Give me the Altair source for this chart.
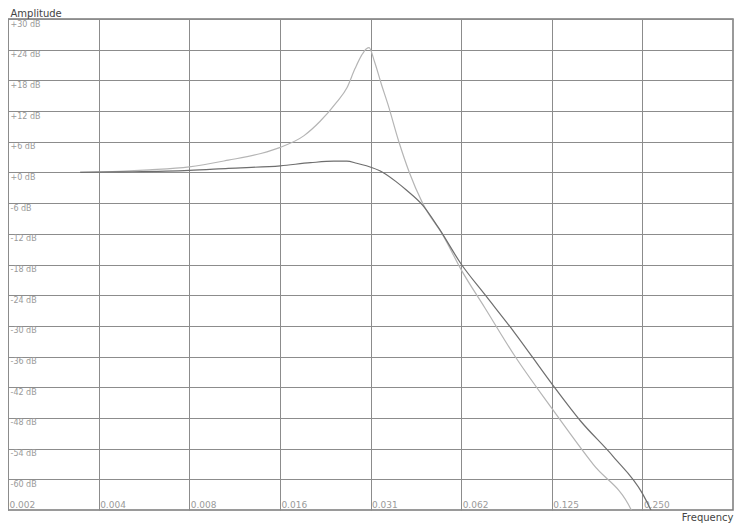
import altair as alt
import pandas as pd

# Light (resonant) curve
freq_light = [0.00339, 0.00459, 0.00575, 0.00781, 0.01053, 0.01351, 0.01568, 0.0188, 0.02126,
              0.02417, 0.02607, 0.02776, 0.02918, 0.0303, 0.0309, 0.03225, 0.03394, 0.03571,
              0.03882, 0.04206, 0.04654, 0.05466, 0.0625, 0.0750, 0.0940, 0.1246, 0.1722,
              0.2297, 0.24]
db_light = [0, 0.2, 0.5, 1.1, 2.4, 3.7, 4.9, 7.2, 10.0,
            13.8, 16.5, 20.3, 22.9, 24.2, 24.4, 21.6, 17.3, 13.3,
            6, 0, -6, -12.5, -19, -26.5, -35.8, -46, -57.2,
            -66, -68.5]

# Dark (gentle) curve
freq_dark = [0.00339, 0.00459, 0.00781, 0.01053, 0.01568, 0.01976, 0.02358, 0.02607, 0.02811,
             0.03030, 0.03438, 0.03800, 0.04101, 0.04654, 0.05256, 0.0625, 0.0750, 0.0940,
             0.1246, 0.1558, 0.2004, 0.2497, 0.2668, 0.2815]
db_dark = [0, 0.1, 0.4, 0.8, 1.3, 1.9, 2.2, 2.2, 1.8,
           1.3, 0, -1.8, -3.4, -6.4, -10.8, -17.9, -23.9, -31.3,
           -41.2, -48.6, -55.6, -62.7, -66, -69]

x_ticks = [1/512, 1/256, 1/128, 1/64, 1/32, 1/16, 1/8, 1/4]
x_labels = ["0.002", "0.004", "0.008", "0.016", "0.031", "0.062", "0.125", "0.250"]
y_ticks = [-60, -54, -48, -42, -36, -30, -24, -18, -12, -6, 0, 6, 12, 18, 24, 30]

df = pd.concat([
    pd.DataFrame({"f": freq_light, "db": db_light, "s": "light"}),
    pd.DataFrame({"f": freq_dark, "db": db_dark, "s": "dark"}),
])

label_arr = "[" + ",".join("'" + l + "'" for l in x_labels) + "]"
x_label_expr = label_arr + "[round(log(datum.value)/log(2)) + 9]"
y_label_expr = "datum.value >= 0 ? '+' + datum.value + ' dB' : datum.value + ' dB'"

W, H = 725, 491

chart = alt.Chart(df).mark_line(clip=True, strokeWidth=1.2, interpolate="monotone").encode(
    x=alt.X("f:Q",
            scale=alt.Scale(type="log", base=2, domain=[1/512, 1/2], nice=False),
            axis=alt.Axis(values=x_ticks, labelExpr=x_label_expr, grid=True,
                          gridColor="#8c8c8c", gridWidth=1, domain=False, ticks=False,
                          labelAlign="left", labelBaseline="bottom", labelPadding=-1,
                          labelOffset=1, labelFontSize=9, labelColor="#9a9a9a",
                          labelFont="DejaVu Sans", labelOverlap=False, labelFlush=False,
                          title="Frequency", titleFont="DejaVu Sans", titleFontSize=10,
                          titleFontWeight="normal", titleColor="#444444",
                          titleAlign="right", titleAnchor="end", titleX=W, titleY=10,
                          titleBaseline="alphabetic")),
    y=alt.Y("db:Q",
            scale=alt.Scale(domain=[-66, 30], nice=False, zero=False),
            axis=alt.Axis(values=y_ticks, labelExpr=y_label_expr, grid=True,
                          gridColor="#8c8c8c", gridWidth=1, domain=False, ticks=False,
                          labelAlign="left", labelBaseline="top", labelPadding=-2,
                          labelOffset=1, labelFontSize=8, labelColor="#9a9a9a",
                          labelFont="DejaVu Sans", labelOverlap=False, labelFlush=False,
                          title="Amplitude", titleFont="DejaVu Sans", titleFontSize=10,
                          titleFontWeight="normal", titleColor="#444444",
                          titleAngle=0, titleAlign="left", titleX=2, titleY=-3,
                          titleBaseline="alphabetic")),
    color=alt.Color("s:N", scale=alt.Scale(domain=["light", "dark"],
                                           range=["#b5b5b5", "#6e6e6e"]), legend=None),
    detail="s:N",
).properties(
    width=W, height=H,
    autosize=alt.AutoSizeParams(type="none"),
    padding={"left": 0, "top": 11, "right": 1, "bottom": 13},
).configure_view(stroke="#7a7a7a", strokeWidth=1.5)

chart.save("out.html", embed_options={"renderer": "svg", "actions": False})
